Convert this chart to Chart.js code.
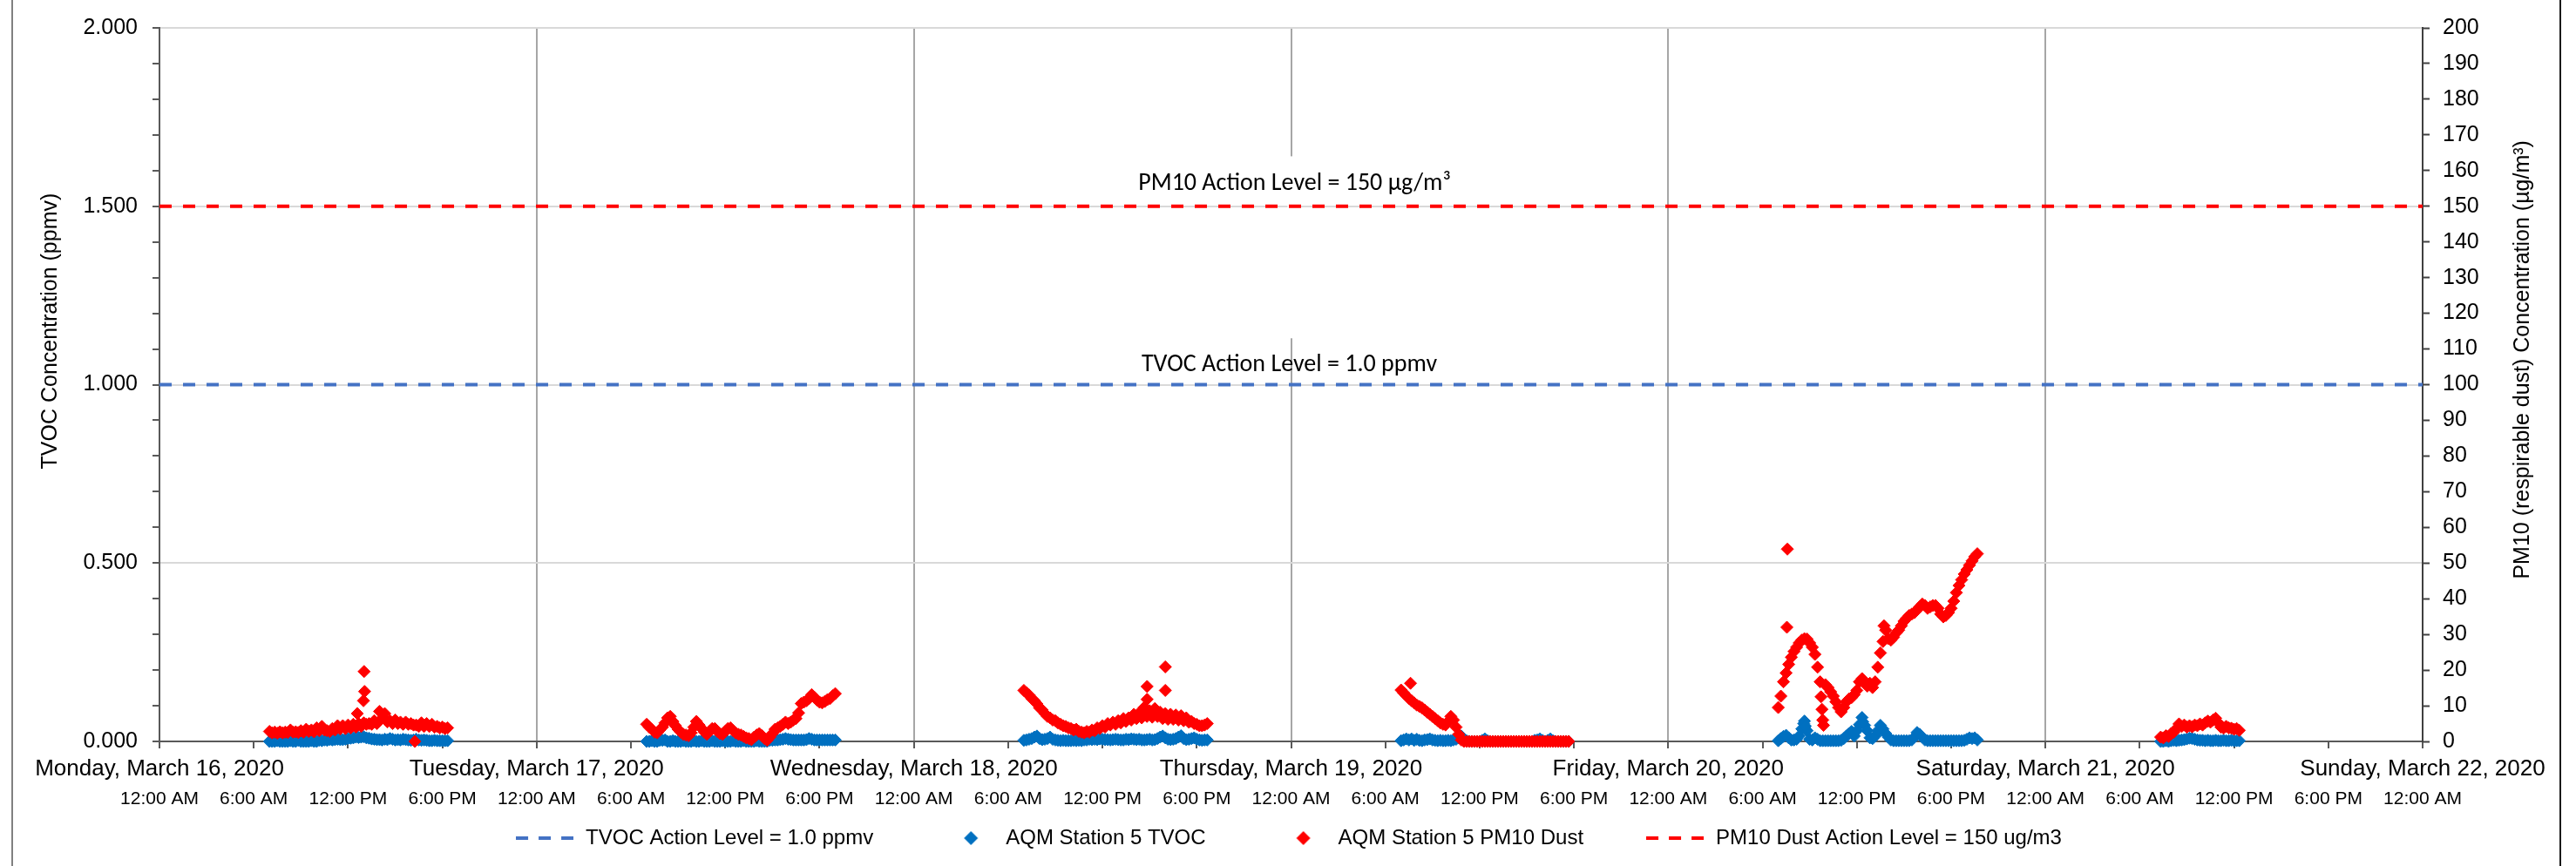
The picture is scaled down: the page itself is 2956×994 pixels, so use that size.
<!DOCTYPE html>
<html><head><meta charset="utf-8">
<script src="https://cdn.jsdelivr.net/npm/chart.js@4.4.1/dist/chart.umd.min.js"></script>
<style>
html,body{margin:0;padding:0;background:#fff;overflow:hidden;}
#wrap{position:relative;width:2956px;height:994px;}
#c{display:block;}
.frameL{position:absolute;left:13px;top:0;width:2px;height:994px;background:#808080;}
.frameR{position:absolute;left:2937px;top:0;width:2px;height:994px;background:#1a1a1a;}
</style></head>
<body><div id="wrap"><canvas id="c" width="2956" height="994"></canvas><div class="frameL"></div><div class="frameR"></div></div>
<script>
// ---------- labels ----------
const DAY_LABELS = ['Monday, March 16, 2020','Tuesday, March 17, 2020','Wednesday, March 18, 2020','Thursday, March 19, 2020','Friday, March 20, 2020','Saturday, March 21, 2020','Sunday, March 22, 2020'];
const TIME_LABELS = ['12:00 AM','6:00 AM','12:00 PM','6:00 PM'];
const SERIES_NAMES = ['TVOC Action Level = 1.0 ppmv','AQM Station 5 TVOC','AQM Station 5 PM10 Dust','PM10 Dust Action Level = 150 ug/m3'];
const LEFT_TITLE = 'TVOC Concentration (ppmv)';
const RIGHT_TITLE = 'PM10 (respirable dust) Concentration (µg/m³)';
const NOTE_PM10 = 'PM10 Action Level = 150 µg/m³';
const NOTE_TVOC = 'TVOC Action Level = 1.0 ppmv';
const TVOC_ACTION = 1.0;
const PM10_ACTION = 150;
const X_MIN = 0, X_MAX = 144; // hours since Mon 16 Mar 2020 00:00

// ---------- data: readings every 10 minutes from each day's first reading ----------
const DAY_OFFSETS = [0, 24, 48, 72, 96, 120];
const STEP_MIN = 10;

// Monday 07:00 .. 18:20
const monStart = 7.0;
const pmMon = [2.8,2.4,2.6,2.3,2.7,2.4, 2.6,2.5,3.2,2.6,2.7,2.5, 3.0,2.6,3.4,2.8,3.2,2.7, 3.8,3.0,4.2,3.2,3.0,2.8, 3.6,3.2,4.4,3.5,4.4,3.6, 4.6,3.8,4.8,4.0,5.0,4.2, 5.2,4.8,5.0,4.8,5.8,5.0, 8.4,6.5,7.8,5.5,5.8,5.0, 6.0,5.0,5.4,4.8,5.4,4.8, 5.0,4.6,4.6,4.2,5.2,4.2, 5.0,4.2,4.8,4.0,4.2,3.8, 4.0,3.6,3.8];
const tvocMon = [0,0,0,0.002,0,0, 0,0,0.002,0,0,0.003, 0,0,0,0,0.002,0, 0,0.003,0.002,0.004,0.003,0.005, 0.004,0.005,0.006,0.005,0.005,0.006, 0.008,0.009,0.010,0.012,0.011,0.012, 0.013,0.010,0.009,0.007,0.006,0.005, 0.005,0.004,0.006,0.005,0.008,0.006, 0.004,0.005,0.004,0.006,0.005,0.004, 0.003,0.004,0.006,0.004,0.003,0.004, 0.003,0.002,0.002,0.003,0.002,0.002, 0.002,0.002,0.002];

// Tuesday 07:00 .. 19:00
const tueStart = 7.0;
const pmTue = [4.8,4.0,3.4,2.6,2.4,3.2, 4.0,5.2,6.6,7.0,5.6,4.4, 3.4,2.6,2.0,1.8,1.6,2.4, 4.0,5.6,4.6,3.6,2.6,2.0, 2.8,3.6,3.6,2.8,2.2,2.0, 2.8,3.6,3.8,3.0,2.4,2.0, 1.8,1.4,1.0,0.8,0.5,1.2, 1.8,2.2,1.6,0.8,0.3,1.2, 2.2,3.4,3.8,4.2,4.8,5.4, 5.0,5.4,6.0,6.4,8.0,10.6, 11.0,11.4,12.0,13.1,12.4,11.6, 11.0,10.8,11.2,11.7,12.0,12.8, 13.4];
const tvocTue = [0,0,0.002,0,0,0.003, 0.003,0.004,0,0,0.002,0, 0,0,0.002,0,0,0, 0.002,0,0,0.002,0,0, 0,0.002,0,0,0,0.002, 0,0,0,0.002,0,0, 0,0.002,0,0,0,0, 0.002,0,0,0,0,0.003, 0.003,0.004,0.004,0.005,0.006,0.008, 0.006,0.005,0.004,0.004,0.004,0.004, 0.004,0.005,0.008,0.006,0.004,0.004, 0.004,0.004,0.004,0.004,0.004,0.004, 0.004];

// Wednesday 07:00 .. 18:40
const wedStart = 7.0;
const pmWed = [14.3,13.6,13.0,12.0,11.4,10.5, 9.4,8.8,7.8,7.0,6.6,6.0, 5.8,5.2,4.8,4.4,4.2,3.8, 3.6,3.2,3.4,2.8,2.6,2.4, 2.8,2.6,3.2,3.0,3.8,3.6, 4.4,4.0,5.0,4.6,5.4,4.8, 5.8,5.2,6.4,5.6,6.6,6.0, 7.6,6.4,8.0,6.6,9.6,7.0, 8.6,6.8,9.2,7.0,8.2,6.4, 7.8,6.2,7.6,6.2,7.4,6.0, 7.2,5.8,6.6,5.4,5.6,5.0, 4.8,4.4,4.4,4.6,5.0];
const tvocWed = [0.003,0.004,0.006,0.008,0.012,0.015, 0.008,0.005,0.006,0.008,0.012,0.006, 0.004,0.003,0.002,0.003,0.002,0.002, 0.002,0.003,0.002,0.003,0.002,0.004, 0.004,0.006,0.005,0.006,0.005,0.007, 0.006,0.005,0.005,0.004,0.005,0.006, 0.005,0.004,0.004,0.006,0.005,0.007, 0.006,0.005,0.006,0.004,0.004,0.005, 0.006,0.004,0.005,0.008,0.012,0.015, 0.010,0.006,0.005,0.006,0.008,0.012, 0.016,0.008,0.005,0.006,0.008,0.010, 0.006,0.004,0.003,0.004,0.004];

// Thursday 07:00 .. 17:40
const thuStart = 7.0;
const pmThu = [14.4,13.6,12.8,12.0,11.4,10.8, 10.2,9.8,9.4,8.8,8.2,7.6, 7.0,6.4,5.8,5.2,4.8,4.6, 5.6,7.0,6.0,4.0,2.0,0.4, 0,0,0,0,0,0, 0,0,0,0,0,0, 0,0,0,0,0,0, 0,0,0,0,0,0, 0,0,0,0,0,0, 0,0,0,0,0,0, 0,0,0,0,0];
const tvocThu = [0.002,0.004,0.007,0.004,0.007,0.003, 0.006,0.003,0.002,0.004,0.005,0.007, 0.004,0.003,0.002,0.003,0.002,0.002, 0.003,0.002,0.004,0.006,0.010,0.015, 0.006,0.002,0,0,0,0, 0,0.003,0.007,0.002,0,0, 0,0,0,0,0,0, 0,0,0,0,0,0, 0,0,0,0.003,0.004,0.007, 0.003,0,0.003,0.007,0.002,0, 0,0,0,0,0];

// Friday 07:00 .. 19:40
const friStart = 7.0;
const pmFri = [9.5,12.7,16.7,19.2,21.6,23.6, 25.2,26.4,27.6,28.4,28.8,28.7, 27.6,26.4,24.4,20.8,16.7,6.0, 15.9,15.1,13.9,12.7,11.1,9.5, 8.3,9.5,11.1,11.9,12.3,13.1, 14.3,16.7,17.6,16.3,15.5,16.3, 15.1,16.7,20.8,24.8,28.0,31.2, 28.8,28.4,29.2,30.4,31.2,32.4, 33.7,34.5,35.3,35.7,36.1,36.9, 37.7,38.5,38.1,37.3,37.7,38.1, 38.1,37.3,35.7,34.9,35.3,36.1, 37.3,39.3,41.7,43.7,45.3,46.9, 48.1,49.4,50.6,51.8,52.6];
const tvocFri = [0.002,0.008,0.014,0.017,0.010,0.004, 0.004,0.006,0.015,0.035,0.057,0.030, 0.006,0.004,0.010,0.006,0.002,0.002, 0.002,0.002,0.002,0.002,0.002,0.002, 0.003,0.008,0.015,0.022,0.028,0.015, 0.030,0.047,0.067,0.045,0.030,0.010, 0.008,0.015,0.030,0.045,0.035,0.022, 0.012,0.004,0.002,0.002,0.002,0.002, 0.002,0.002,0.002,0.004,0.012,0.025, 0.020,0.012,0.004,0.002,0.002,0.002, 0.002,0.002,0.002,0.002,0.002,0.002, 0.002,0.002,0.002,0.002,0.002,0.003, 0.006,0.010,0.008,0.010,0.004];

// Saturday 07:20 .. 12:20
const satStart = 7.333;
const pmSat = [1.2,1.0,1.6,1.4, 2.2,2.6,3.6,4.9,4.2,4.6, 4.0,4.4,4.1,4.6,4.4,4.9, 4.6,5.2,5.7,5.4,6.0,6.5, 5.2,4.0,3.7,4.2,3.8,3.7, 3.4,3.6,3.1];
const tvocSat = [0,0,0.002,0,0.002,0.003, 0.002,0.003,0.004,0.005,0.007,0.009, 0.008,0.006,0.004,0.003,0.003,0.002, 0.003,0.002,0.002,0.003,0.002,0.002, 0.003,0.002,0.002,0.003,0.002,0.002, 0.002];

// isolated readings (hours since Mon 00:00)
const pmExtraHours  = [12.59,13.02,13.05,12.98,16.25,62.84,62.84,64.0,64.0,79.6,103.58,103.55,105.72,105.78,105.88,109.73];
const pmExtraValues = [7.8,19.6,14.0,11.4,0.0,15.4,11.8,20.9,14.3,16.3,53.9,32.0,12.5,9.0,4.5,32.4];
const tvocExtraHours  = [104.62,104.72,108.38];
const tvocExtraValues = [0.050,0.043,0.055];

// ---------- build point lists ----------
function block(day, start, values){
  return values.map((v,i)=>({x: DAY_OFFSETS[day] + start + i*STEP_MIN/60, y: v}));
}
function extras(hours, values){ return hours.map((h,i)=>({x:h, y:values[i]})); }
const pmPoints = [].concat(
  block(0,monStart,pmMon), block(1,tueStart,pmTue), block(2,wedStart,pmWed),
  block(3,thuStart,pmThu), block(4,friStart,pmFri), block(5,satStart,pmSat),
  extras(pmExtraHours,pmExtraValues));
const tvocPoints = [].concat(
  block(0,monStart,tvocMon), block(1,tueStart,tvocTue), block(2,wedStart,tvocWed),
  block(3,thuStart,tvocThu), block(4,friStart,tvocFri), block(5,satStart,tvocSat),
  extras(tvocExtraHours,tvocExtraValues));

// ---------- legend icons ----------
function dashIcon(color){
  const c=document.createElement('canvas'); c.width=66; c.height=8;
  const g=c.getContext('2d'); g.strokeStyle=color; g.lineWidth=4; g.setLineDash([14,12]);
  g.beginPath(); g.moveTo(0,4); g.lineTo(66,4); g.stroke(); return c;
}
function diamondIcon(color){
  const c=document.createElement('canvas'); c.width=84; c.height=18;
  const g=c.getContext('2d'); g.fillStyle=color; const cx=49;
  g.beginPath(); g.moveTo(cx-8,9); g.lineTo(cx,1); g.lineTo(cx+8,9); g.lineTo(cx,17); g.closePath(); g.fill(); return c;
}
const LEGEND_ICONS = [dashIcon('#4472C4'), diamondIcon('#0070C0'), diamondIcon('#FF0000'), dashIcon('#FF0000')];
const LEGEND_PAD = 70;

const isHalf = v => Math.abs(v*2 - Math.round(v*2)) < 1e-6;

Chart.defaults.font.family = "'Liberation Sans', Arial, sans-serif";
Chart.defaults.color = '#000';

const overlay = {
  id: 'overlay',
  beforeDatasetsDraw(chart){
    // white text-box background that interrupts the Thursday gridline
    const {ctx, scales:{x, y}} = chart;
    ctx.save(); ctx.fillStyle = '#fff';
    const px = x.getPixelForValue(72);
    ctx.fillRect(px - 4, y.getPixelForValue(1.64), 8, y.getPixelForValue(1.13) - y.getPixelForValue(1.64));
    ctx.restore();
  },
  afterDatasetsDraw(chart){
    const {ctx, scales:{x, y, y2}} = chart;
    ctx.save();
    ctx.font = "28px Carlito, Lato, sans-serif";
    ctx.fillStyle = '#000'; ctx.textAlign = 'center'; ctx.textBaseline = 'middle';
    ctx.fillText(NOTE_PM10, x.getPixelForValue(72) + 4, y2.getPixelForValue(PM10_ACTION) - 26);
    ctx.fillText(NOTE_TVOC, x.getPixelForValue(72) - 2, y.getPixelForValue(TVOC_ACTION) - 23);
    ctx.restore();
  },
  afterDraw(chart){
    const ctx = chart.ctx;
    const drawTitle = (text, cx, cy) => {
      ctx.save(); ctx.translate(cx, cy); ctx.rotate(-Math.PI/2);
      ctx.font = "25px 'Liberation Sans', Arial, sans-serif";
      ctx.fillStyle = '#000'; ctx.textAlign = 'center'; ctx.textBaseline = 'middle';
      ctx.fillText(text, 0, 0); ctx.restore();
    };
    const yl = chart.scales.y, yr = chart.scales.y2;
    drawTitle(yl.options.title.text, yl.left + 58, yl.getPixelForValue(1.15));
    drawTitle(yr.options.title.text, yr.right - 61, yr.getPixelForValue(107));
  }
};

new Chart(document.getElementById('c'), {
  type: 'scatter',
  data: { datasets: [
    { label: SERIES_NAMES[0], data: [{x:X_MIN,y:TVOC_ACTION},{x:X_MAX,y:TVOC_ACTION}], yAxisID:'y', showLine:true,
      borderColor:'#4472C4', borderWidth:4, borderDash:[14,13], pointRadius:0, order:0 },
    { label: SERIES_NAMES[1], data: tvocPoints, yAxisID:'y', pointStyle:'rectRot', pointRadius:7,
      backgroundColor:'#0070C0', borderColor:'#0070C0', borderWidth:1, clip:false, order:2 },
    { label: SERIES_NAMES[2], data: pmPoints, yAxisID:'y2', pointStyle:'rectRot', pointRadius:7,
      backgroundColor:'#FF0000', borderColor:'#FF0000', borderWidth:1, clip:false, order:1 },
    { label: SERIES_NAMES[3], data: [{x:X_MIN,y:PM10_ACTION},{x:X_MAX,y:PM10_ACTION}], yAxisID:'y2', showLine:true,
      borderColor:'#FF0000', borderWidth:4, borderDash:[14,13], pointRadius:0, order:0 }
  ]},
  options: {
    responsive:false, animation:false, devicePixelRatio:1, events:[],
    layout:{ padding:{ top:22, left:0, right:0, bottom:10 } },
    plugins:{
      tooltip:{ enabled:false },
      legend:{ position:'bottom',
        labels:{ usePointStyle:true, pointStyleWidth:70, padding:LEGEND_PAD, color:'#000', font:{ size:24 },
          generateLabels(chart){
            const items = Chart.defaults.plugins.legend.labels.generateLabels(chart);
            items.sort((a,b)=>a.datasetIndex-b.datasetIndex);
            items.forEach(it=>{ it.pointStyle = LEGEND_ICONS[it.datasetIndex]; it.lineWidth = 0; });
            return items;
          } } }
    },
    scales:{
      x:{ type:'linear', position:'bottom', min:X_MIN, max:X_MAX, weight:0,
        afterFit(s){ s.height = 99 - LEGEND_PAD; },
        ticks:{ display:false, stepSize:6, autoSkip:false, maxRotation:0, minRotation:0 },
        grid:{ color:(c)=> (c.tick && c.tick.value % 24 === 0 && c.tick.value > X_MIN && c.tick.value < X_MAX) ? '#a6a6a6' : 'rgba(0,0,0,0)',
          lineWidth:2, tickColor:'#595959', tickLength:8, tickWidth:2 },
        border:{ display:true, color:'#595959', width:2 } },
      xDate:{ type:'linear', position:{ y:0 }, min:X_MIN, max:X_MAX,
        ticks:{ stepSize:24, autoSkip:false, maxRotation:0, minRotation:0, padding:16, color:'#000', font:{ size:26 },
          callback:(v)=> DAY_LABELS[Math.round(v/24)] },
        grid:{ display:false, drawTicks:false }, border:{ display:false } },
      xTime:{ type:'linear', position:{ y:0 }, min:X_MIN, max:X_MAX,
        ticks:{ stepSize:6, autoSkip:false, maxRotation:0, minRotation:0, padding:54, color:'#000', font:{ size:21 },
          callback:(v)=> TIME_LABELS[Math.round(v/6) % 4] },
        grid:{ display:false, drawTicks:false }, border:{ display:false } },
      y:{ type:'linear', position:'left', min:0, max:2,
        afterFit(s){ s.width = 183; },
        ticks:{ stepSize:0.1, autoSkip:false, padding:17, color:'#000', font:{ size:25 },
          callback:(v)=> isHalf(v) ? Number(v).toFixed(3) : '' },
        grid:{ color:(c)=> (c.tick && isHalf(c.tick.value) && c.tick.value > 0) ? '#d9d9d9' : 'rgba(0,0,0,0)',
          lineWidth:2, tickColor:'#595959', tickLength:8, tickWidth:2 },
        border:{ color:'#595959', width:2 },
        title:{ display:false, text:LEFT_TITLE, font:{ size:25 } } },
      y2:{ type:'linear', position:'right', min:0, max:200,
        afterFit(s){ s.width = 176; },
        ticks:{ stepSize:10, autoSkip:false, padding:15, color:'#000', font:{ size:25 } },
        grid:{ drawOnChartArea:false, tickColor:'#404040', tickLength:8, tickWidth:2 },
        border:{ color:'#404040', width:2 },
        title:{ display:false, text:RIGHT_TITLE, font:{ size:25 } } }
    }
  },
  plugins:[overlay]
});
</script>
</body></html>
